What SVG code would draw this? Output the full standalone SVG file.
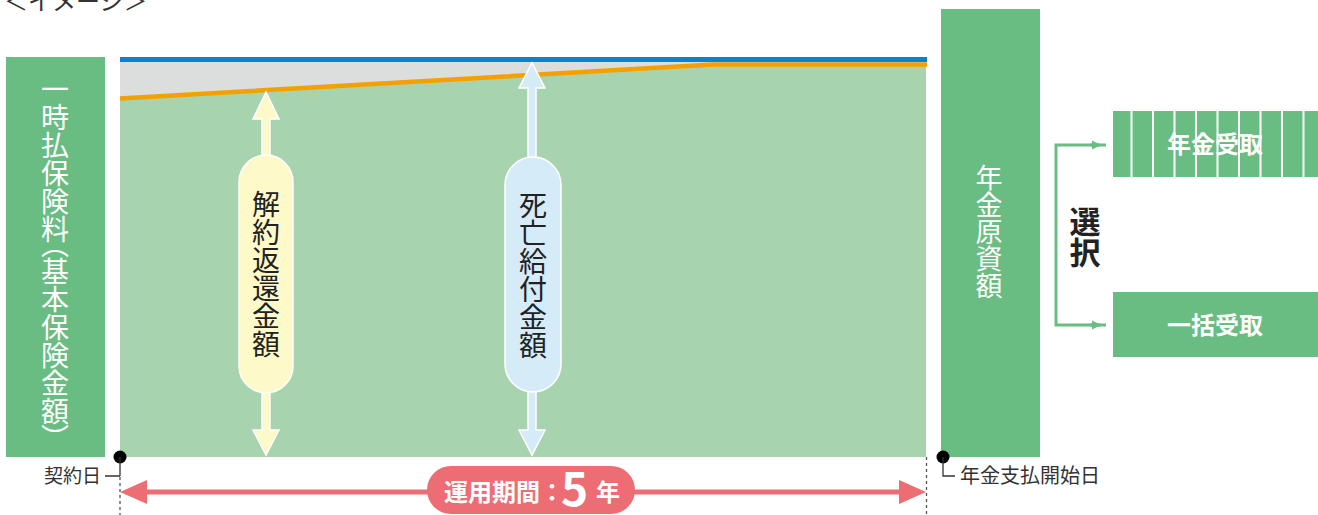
<svg xmlns="http://www.w3.org/2000/svg" width="1318" height="515" viewBox="0 0 1318 515">
<defs>
<style>
text{font-family:"Noto Sans CJK JP","Noto Sans",sans-serif;}
.vt{writing-mode:vertical-rl;text-anchor:middle;}
.wh{fill:#ffffff;}
.dk{fill:#222222;}
.gbox{fill:#69bc82;}
.dash{stroke:#555555;stroke-width:1.3;stroke-dasharray:3 3;fill:none;}
.tick{stroke:#333333;stroke-width:1.3;fill:none;}
.brk{stroke:#69bc82;stroke-width:3;fill:none;}
</style>
<marker id="gArr" markerWidth="10" markerHeight="10" refX="8" refY="5" orient="auto" markerUnits="userSpaceOnUse">
<path d="M0,0.5 L9,5 L0,9.5 Z" fill="#69bc82"/>
</marker>
</defs>
<rect width="1318" height="515" fill="#ffffff"/>

<text x="4" y="10" font-size="24" fill="#333333">＜イメージ＞</text>

<g id="chart">
<rect x="120" y="59" width="806" height="398" fill="#dcdddd"/>
<polygon points="120,98.5 713,64.5 926,64.5 926,457 120,457" fill="#a7d4ae"/>
<polyline points="120,98.5 713,64.5 927,64.5" fill="none" stroke="#f4a000" stroke-width="4.5"/>
<rect x="120" y="57" width="807" height="5" fill="#0a83cc"/>
</g>

<g id="node-premium">
<rect x="6" y="57" width="99" height="400" class="gbox"/>
<text class="vt wh" x="55" y="257" font-size="28" style="font-feature-settings:'vpal'">一時払保険料（基本保険金額）</text>
</g>

<g id="node-surrender">
<path d="M266,92 L279,119 L270,119 L270,430 L279,430 L266,455 L253,430 L262,430 L262,119 L253,119 Z" fill="#fdf9c9" stroke="#ffffff" stroke-width="1.5"/>
<rect x="239" y="155" width="54" height="238" rx="27" fill="#fdf9c9" stroke="#ffffff" stroke-width="1.5"/>
<text class="vt dk" x="266" y="274" font-size="28">解約返還金額</text>
</g>

<g id="node-death">
<path d="M532,63 L545,88 L536,88 L536,430 L545,430 L532,455 L519,430 L528,430 L528,88 L519,88 Z" fill="#d6ebf8" stroke="#ffffff" stroke-width="1.5"/>
<rect x="505" y="157" width="56" height="235" rx="28" fill="#d6ebf8" stroke="#ffffff" stroke-width="1.5"/>
<text class="vt dk" x="533" y="275" font-size="28">死亡給付金額</text>
</g>

<g id="node-fund">
<rect x="941" y="9" width="99" height="448" class="gbox"/>
<text class="vt wh" x="989" y="232" font-size="27">年金原資額</text>
</g>

<g id="node-choice">
<text class="vt dk" x="1085" y="237" font-size="31" font-weight="bold">選択</text>
</g>

<g id="node-annuity">
<rect x="1113" y="111" width="205" height="66" class="gbox"/>
<g fill="#ffffff">
<rect x="1130.5" y="111" width="2" height="66"/>
<rect x="1152" y="111" width="2" height="66"/>
<rect x="1173.5" y="111" width="2" height="66"/>
<rect x="1195" y="111" width="2" height="66"/>
<rect x="1216.5" y="111" width="2" height="66"/>
<rect x="1238" y="111" width="2" height="66"/>
<rect x="1259.5" y="111" width="2" height="66"/>
<rect x="1281" y="111" width="2" height="66"/>
<rect x="1302.5" y="111" width="2" height="66"/>
</g>
<text x="1215" y="153" font-size="24" font-weight="bold" class="wh" text-anchor="middle">年金受取</text>
</g>

<g id="node-lump">
<rect x="1113" y="292" width="205" height="65" class="gbox"/>
<text x="1215" y="334" font-size="24" font-weight="bold" class="wh" text-anchor="middle">一括受取</text>
</g>

<g id="node-period">
<path d="M146,492 L900,492" stroke="#ec6d74" stroke-width="5" fill="none"/>
<polygon points="120,492 147,480 147,504" fill="#ec6d74"/>
<polygon points="926,492 899,480 899,504" fill="#ec6d74"/>
<rect x="427" y="466" width="208" height="48" rx="24" fill="#ec6d74"/>
<text y="501" font-weight="bold" class="wh"><tspan x="444" font-size="24">運用期間：</tspan><tspan x="561" y="506" font-size="46">5</tspan><tspan x="596" y="501" font-size="24">年</tspan></text>
</g>

<g id="node-start">
<circle cx="120" cy="457" r="6.5" fill="#000000"/>
<path class="tick" d="M120,457 L120,476 M105,476 L120,476"/>
<text x="101" y="483" font-size="19" fill="#333333" text-anchor="end">契約日</text>
</g>

<g id="node-end">
<circle cx="943" cy="457" r="6.5" fill="#000000"/>
<path class="tick" d="M943,457 L943,476 L955,476"/>
<text x="960" y="483" font-size="20" fill="#333333">年金支払開始日</text>
</g>

<g id="connectors">
<path class="dash" d="M120,477 L120,515"/>
<path class="dash" d="M926.5,457 L926.5,515"/>
<path class="brk" d="M1106,145 L1056,145 L1056,325 L1106,325"/>
<path class="brk" d="M1090,145 L1100,145" marker-end="url(#gArr)"/>
<path class="brk" d="M1090,325 L1100,325" marker-end="url(#gArr)"/>
</g>
</svg>
